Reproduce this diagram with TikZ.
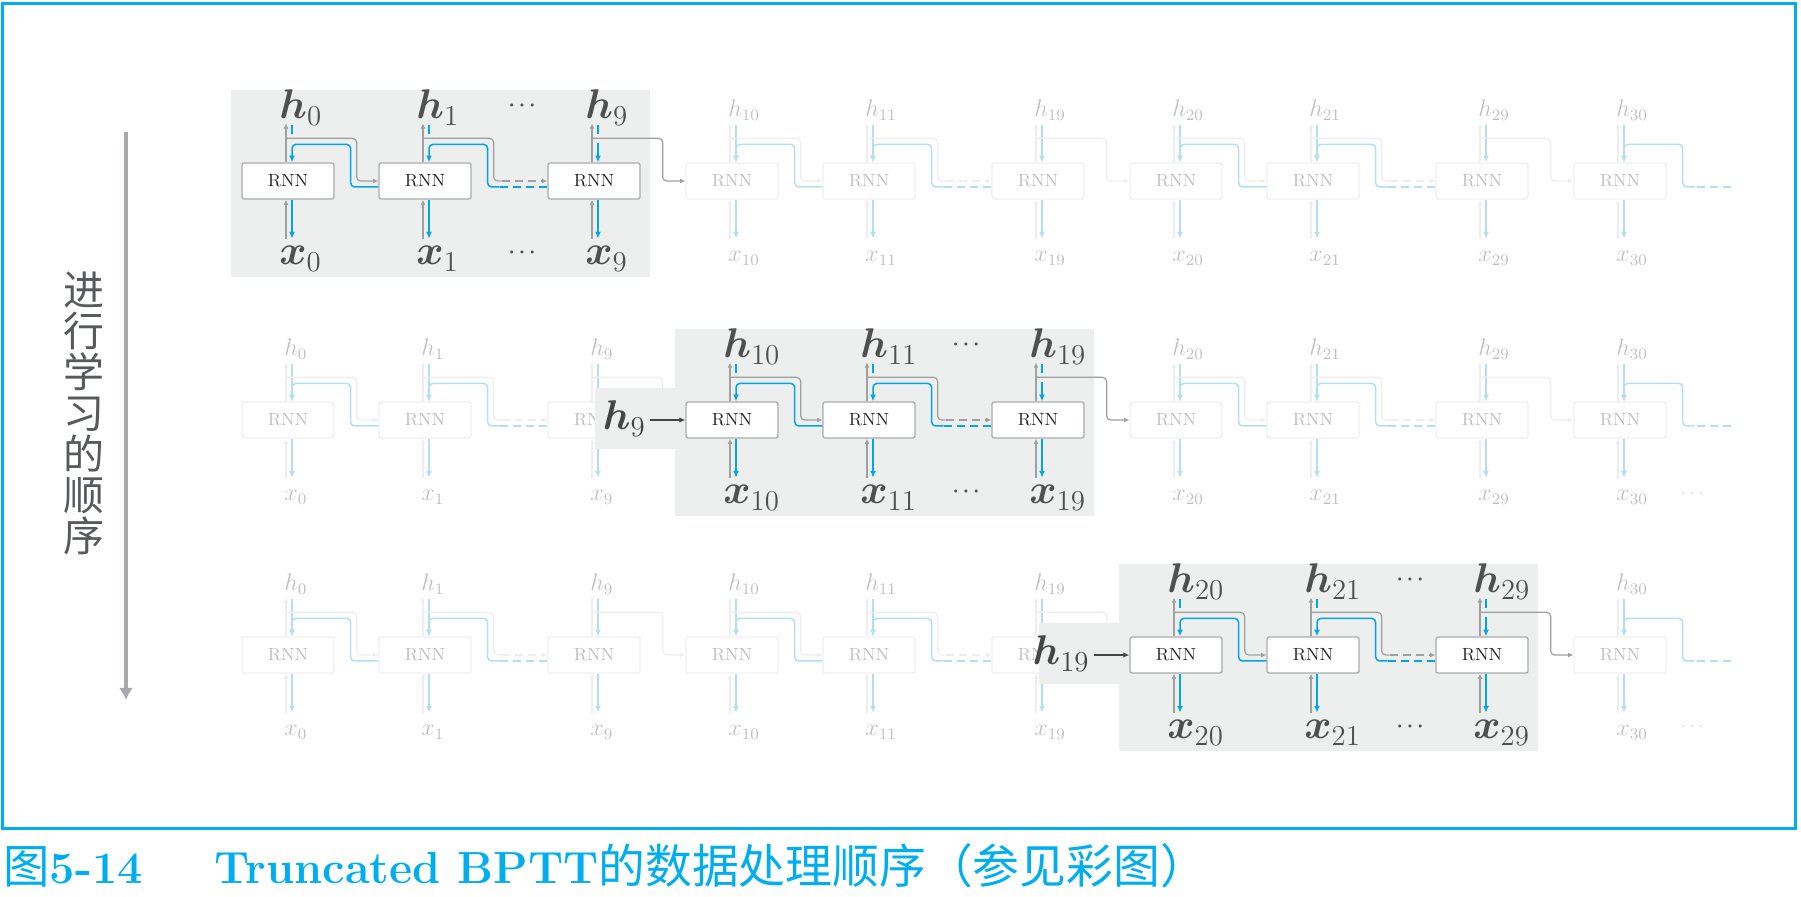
\documentclass[tikz,border=0pt]{standalone}
\usepackage{amsmath}
\usepackage{fontspec}
\newfontfamily\cjk{Noto Sans CJK SC}
\usetikzlibrary{arrows.meta,calc}
\definecolor{capblue}{RGB}{0,174,239}
\definecolor{flowblue}{RGB}{0,166,233}
\definecolor{arrgray}{RGB}{160,160,160}
\definecolor{boxline}{RGB}{172,172,172}
\definecolor{rnntext}{RGB}{40,40,40}
\definecolor{panelgray}{RGB}{237,238,238}
\definecolor{labdark}{RGB}{80,80,80}
\definecolor{indark}{RGB}{70,70,70}
\definecolor{sidegray}{RGB}{167,169,172}
\definecolor{sidetext}{RGB}{88,89,91}
\definecolor{fadeblue}{RGB}{180,223,242}
\definecolor{fadegray}{RGB}{238,238,238}
\definecolor{fadebox}{RGB}{240,240,240}
\definecolor{fadelab}{RGB}{192,192,192}
\definecolor{fadedot}{RGB}{225,225,225}
\colorlet{cblue}{flowblue}
\colorlet{cgray}{arrgray}
\colorlet{cbox}{boxline}
\colorlet{clab}{labdark}
\colorlet{crnn}{rnntext}
\newcommand{\lv}[1]{\boldsymbol{#1}}
\newcommand{\bgap}{9}
% one unrolled step: box, h/x labels, vertical arrows
\newcommand{\rnncell}[4]{%
  \node[rnn] (#1) at (#2,#3) {RNN};
  \node[hlab] (#1h) at (#2,#3) {$\lv{h}_{#4}$};
  \node[xlab] (#1x) at (#2,#3) {$\lv{x}_{#4}$};
  \draw[garr] ([xshift=-1pt]#1.north) -- +(0,-39);
  \draw[garr] ($(#1.south)+(-2,39)$) -- ([xshift=-1pt]#1.south);
  \draw[barr] ([xshift=2pt]#1.south) -- +(0,39);
  \draw[btop] ($(#1.north)+(4,-37)$) -- +(0,\bgap);
}
% forward state (gray), backward gradient (blue)
\newcommand{\glink}[2]{\draw[garr] ([xshift=-1pt,yshift=12pt]#1.north) -| ([xshift=11pt]#1.east) -- (#2.west);}
\newcommand{\gdash}[2]{%
  \draw[gline] ([xshift=-1pt,yshift=12pt]#1.north) -| ([xshift=11pt]#1.east) -- ([xshift=15pt]#1.east);
  \draw[garr,dashline] ([xshift=15pt]#1.east) -- (#2.west);}
\newcommand{\blink}[2]{\draw[barr] ([yshift=-3pt]#2.west) -| ([xshift=8pt,yshift=9pt]#1.north east) -| ([xshift=2pt]#1.north);}
\newcommand{\bdash}[2]{%
  \draw[bline,dashline] ([yshift=-3pt]#2.west) -- ([xshift=14pt,yshift=-3pt]#1.east);
  \draw[barr] ([xshift=14pt,yshift=-3pt]#1.east) -| ([xshift=8pt,yshift=9pt]#1.north east) -| ([xshift=2pt]#1.north);}
\begin{document}
\begin{tikzpicture}[x=0.5pt,y=-0.5pt,
rnn/.style={draw=cbox,fill=white,rounded corners=1pt,line width=.65pt,minimum width=46pt,minimum height=18pt,inner sep=0pt,text=crnn,font=\fontsize{8.8}{9}\selectfont},
hlab/.style={anchor=base west,inner sep=0pt,xshift=-4.5pt,yshift=31pt,text=clab,font=\fontsize{20.74}{21}\selectfont},
xlab/.style={anchor=base west,inner sep=0pt,xshift=-4.5pt,yshift=-42pt,text=clab,font=\fontsize{20.74}{21}\selectfont},
gline/.style={draw=cgray,line width=.6pt,rounded corners=2pt},
garr/.style={gline,-{Latex[length=2.6pt,width=2.4pt]}},
bline/.style={draw=cblue,line width=.75pt,rounded corners=2pt},
barr/.style={bline,-{Latex[length=3.4pt,width=3pt]}},
btop/.style={bline},
dashline/.style={dash pattern=on 4pt off 2.5pt},
dotlab/.style={inner sep=0pt,text=clab,font=\fontsize{10}{10}\selectfont},
inlab/.style={anchor=base east,inner sep=2pt,text=indark,font=\fontsize{20.74}{21}\selectfont},
inarr/.style={draw=indark,line width=.6pt,-{Latex[length=3pt,width=2.8pt]}},
ordtext/.style={inner sep=0pt,align=center,text=sidetext,font=\cjk\fontsize{20.5}{20.5}\selectfont},
ordarr/.style={draw=sidegray,line width=2pt,-{Latex[length=6pt,width=7pt]}},
captext/.style={anchor=base west,inner sep=0pt,text=capblue,font=\fontsize{22}{22}\selectfont}]
\useasboundingbox (0,0) rectangle (1801,897);
\draw[capblue,line width=1.5pt] (2.5,3.5) rectangle (1795.5,828.5);
\node[captext] (caption) at (3,884) {{\cjk\fontsize{23.2}{23}\selectfont 图}{\bfseries\fontsize{22.5}{23}\selectfont 5-14\hspace{1.6em}Truncated BPTT}{\cjk\fontsize{23.4}{23}\selectfont 的数据处理顺序（参见彩图）}};

% order of learning
\coordinate (ordtop) at (126,132);
\coordinate (ordbot) at (126,700);
\draw[ordarr] (ordtop) -- (ordbot);
\node[ordtext] (ordlab) at (84,413) {进\\行\\学\\习\\的\\顺\\序};

% steps outside the current window, faded
\begin{scope}[hlab/.style={anchor=base west,inner sep=0pt,xshift=-2pt,yshift=32pt,text=clab,font=\fontsize{12}{12}\selectfont},
xlab/.style={anchor=base west,inner sep=0pt,xshift=-2pt,yshift=-40.5pt,text=clab,font=\fontsize{12}{12}\selectfont},
btop/.style={barr}]
\colorlet{cblue}{fadeblue}\colorlet{cgray}{fadegray}\colorlet{cbox}{fadebox}\colorlet{clab}{fadelab}\colorlet{crnn}{fadelab}
\renewcommand{\lv}[1]{#1}\renewcommand{\bgap}{37}
\foreach \cy [count=\row from 0] in {181,420,655} {
  \foreach \col/\cx/\idx in {0/288/0,1/425/1,2/594/9,3/732/10,4/869/11,5/1038/19,6/1176/20,7/1313/21,8/1482/29,9/1620/30} {
    \pgfmathtruncatemacro{\grp}{int(\col/3)}
    \ifnum\grp=\row
      \node[rnn,draw=none,fill=none] (f\row c\col) at (\cx,\cy) {};
    \else
      \rnncell{f\row c\col}{\cx}{\cy}{\idx}
    \fi
  }
  \foreach \pa/\pb/\pc/\pd [count=\grp from 0] in {0/1/2/3,3/4/5/6,6/7/8/9} {
    \ifnum\grp=\row\else
      \glink{f\row c\pa}{f\row c\pb}
      \gdash{f\row c\pb}{f\row c\pc}
      \glink{f\row c\pc}{f\row c\pd}
      \blink{f\row c\pa}{f\row c\pb}
      \bdash{f\row c\pb}{f\row c\pc}
    \fi
  }
  \coordinate (tail\row) at (1731,\cy+6);
  \draw[bline,dashline] (tail\row) -- ([xshift=14pt,yshift=-3pt]f\row c9.east);
  \draw[barr] ([xshift=14pt,yshift=-3pt]f\row c9.east) -| ([xshift=8pt,yshift=9pt]f\row c9.north east) -| ([xshift=2pt]f\row c9.north);
}
\node[dotlab,text=fadedot] (f1dots) at (1694,494) {$\cdots$};
\node[dotlab,text=fadedot] (f2dots) at (1694,727) {$\cdots$};
\end{scope}

% row 1: h0 ... h9
\fill[panelgray] (231,90) rectangle (650,277);
\rnncell{a0c0}{288}{181}{0}
\rnncell{a0c1}{425}{181}{1}
\rnncell{a0c2}{594}{181}{9}
\glink{a0c0}{a0c1}
\gdash{a0c1}{a0c2}
\glink{a0c2}{f0c3}
\blink{a0c0}{a0c1}
\bdash{a0c1}{a0c2}
\draw[barr] ($(a0c2.north)+(4,-19)$) -- ([xshift=2pt]a0c2.north);
\node[dotlab] (a0dh) at (524,106) {$\boldsymbol{\cdots}$};
\node[dotlab] (a0dx) at (524,253) {$\boldsymbol{\cdots}$};

% row 2: h10 ... h19, starts from h9
\fill[panelgray] (675,329) rectangle (1094,516) (595,388) rectangle (677,449);
\rnncell{a1c3}{732}{420}{10}
\rnncell{a1c4}{869}{420}{11}
\rnncell{a1c5}{1038}{420}{19}
\glink{a1c3}{a1c4}
\gdash{a1c4}{a1c5}
\glink{a1c5}{f1c6}
\blink{a1c3}{a1c4}
\bdash{a1c4}{a1c5}
\draw[barr] ($(a1c5.north)+(4,-19)$) -- ([xshift=2pt]a1c5.north);
\node[dotlab] (a1dh) at (968,345) {$\boldsymbol{\cdots}$};
\node[dotlab] (a1dx) at (968,492) {$\boldsymbol{\cdots}$};
\node[inlab] (in1) at (650,430) {$\boldsymbol{h}_{9}$};
\draw[inarr] (in1.east |- a1c3.west) -- (a1c3.west);

% row 3: h20 ... h29, starts from h19
\fill[panelgray] (1119,564) rectangle (1538,751) (1039,623) rectangle (1121,684);
\rnncell{a2c6}{1176}{655}{20}
\rnncell{a2c7}{1313}{655}{21}
\rnncell{a2c8}{1482}{655}{29}
\glink{a2c6}{a2c7}
\gdash{a2c7}{a2c8}
\glink{a2c8}{f2c9}
\blink{a2c6}{a2c7}
\bdash{a2c7}{a2c8}
\draw[barr] ($(a2c8.north)+(4,-19)$) -- ([xshift=2pt]a2c8.north);
\node[dotlab] (a2dh) at (1412,580) {$\boldsymbol{\cdots}$};
\node[dotlab] (a2dx) at (1412,727) {$\boldsymbol{\cdots}$};
\node[inlab] (in2) at (1094,665) {$\boldsymbol{h}_{19}$};
\draw[inarr] (in2.east |- a2c6.west) -- (a2c6.west);
\end{tikzpicture}
\end{document}
